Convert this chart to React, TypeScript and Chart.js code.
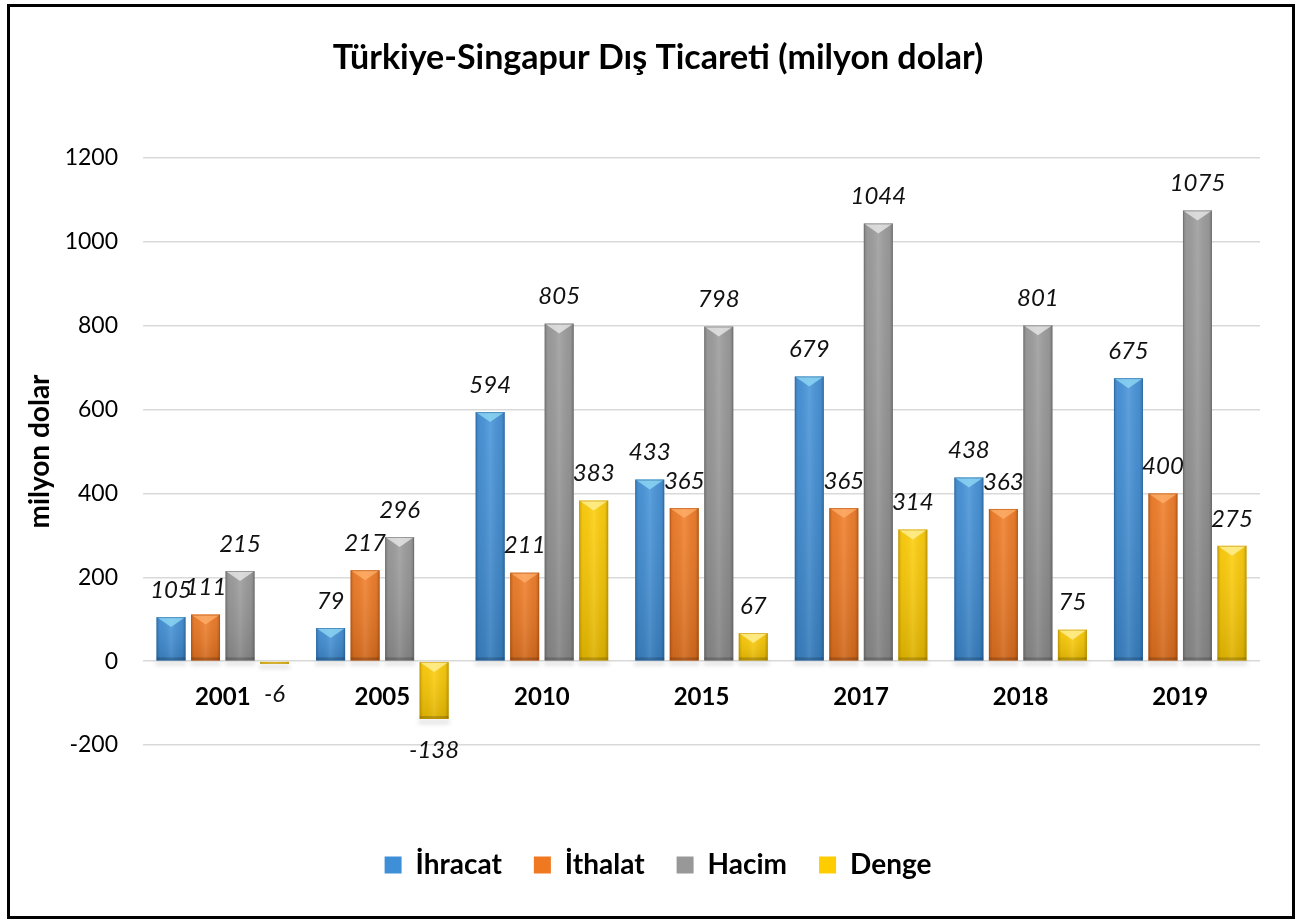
import React, { useEffect, useRef } from 'react';
import { Chart, registerables } from 'chart.js';

Chart.register(...registerables);

const categories = ['2001', '2005', '2010', '2015', '2017', '2018', '2019'];
const ihracat = [105, 79, 594, 433, 679, 438, 675];
const ithalat = [111, 217, 211, 365, 365, 363, 400];
const hacim = [215, 296, 805, 798, 1044, 801, 1075];
const denge = [-6, -138, 383, 67, 314, 75, 275];
const seriesNames = ['İhracat', 'İthalat', 'Hacim', 'Denge'];
const yTicks = [-200, 0, 200, 400, 600, 800, 1000, 1200];
const titleText = 'Türkiye-Singapur Dış Ticareti (milyon dolar)';
const yTitleText = 'milyon dolar';

const FONT = 'Lato, "Open Sans", "DejaVu Sans", sans-serif';

const palette = [
  { base: '#3f8fd8', light: '#93dcf5', dark: '#25639f' },
  { base: '#f07820', light: '#ffb26e', dark: '#b04c0a' },
  { base: '#989898', light: '#ececec', dark: '#666666' },
  { base: '#ffcc00', light: '#fff3a0', dark: '#c09000' },
];

const bevelPlugin = {
  id: 'bevel',
  beforeDatasetsDraw(chart: any) {
    const ctx = chart.ctx;
    chart.data.datasets.forEach((ds: any, di: number) => {
      const meta = chart.getDatasetMeta(di);
      meta.data.forEach((el: any) => {
        const { x, y, base, width } = el.getProps(['x', 'y', 'base', 'width'], true);
        const bot = Math.max(y, base);
        ctx.save();
        ctx.filter = 'blur(2px)';
        ctx.fillStyle = 'rgba(0,0,0,0.12)';
        ctx.fillRect(x - width / 2 - 1, bot + 1, width + 2, 4);
        ctx.restore();
      });
    });
  },
  afterDatasetsDraw(chart: any) {
    const ctx = chart.ctx;
    chart.data.datasets.forEach((ds: any, di: number) => {
      const meta = chart.getDatasetMeta(di);
      const pal = palette[di];
      meta.data.forEach((el: any) => {
        const { x, y, base, width } = el.getProps(['x', 'y', 'base', 'width'], true);
        const left = x - width / 2;
        const right = x + width / 2;
        const top = Math.min(y, base);
        const bot = Math.max(y, base);
        const h = bot - top;
        if (h < 0.5) return;
        ctx.save();
        const g = ctx.createLinearGradient(left, 0, right, 0);
        g.addColorStop(0, 'rgba(0,0,0,0.20)');
        g.addColorStop(0.12, 'rgba(0,0,0,0.04)');
        g.addColorStop(0.5, 'rgba(255,255,255,0.10)');
        g.addColorStop(0.88, 'rgba(0,0,0,0.06)');
        g.addColorStop(1, 'rgba(0,0,0,0.24)');
        ctx.fillStyle = g;
        ctx.fillRect(left, top, width, h);
        const gv = ctx.createLinearGradient(0, top, 0, bot);
        gv.addColorStop(0, 'rgba(255,255,255,0.06)');
        gv.addColorStop(1, 'rgba(0,0,0,0.12)');
        ctx.fillStyle = gv;
        ctx.fillRect(left, top, width, h);
        const bev = Math.min(width * 0.35, h * 0.5, 10);
        ctx.beginPath();
        ctx.moveTo(left, top);
        ctx.lineTo(right, top);
        ctx.lineTo(x, top + bev);
        ctx.closePath();
        ctx.globalAlpha = 0.75;
        ctx.fillStyle = pal.light;
        ctx.fill();
        ctx.globalAlpha = 1;
        const bb = Math.min(3, h * 0.2);
        ctx.fillStyle = 'rgba(0,0,0,0.18)';
        ctx.fillRect(left, bot - bb, width, bb);
        ctx.globalAlpha = 0.55;
        ctx.strokeStyle = pal.dark;
        ctx.lineWidth = 1;
        ctx.strokeRect(left + 0.5, top + 0.5, width - 1, h - 1);
        ctx.restore();
      });
    });
    // value labels
    ctx.save();
    ctx.font = `italic 24px ${FONT}`;
    ctx.fillStyle = '#111';
    ctx.textAlign = 'center';
    ctx.textBaseline = 'middle';
    chart.data.datasets.forEach((ds: any, di: number) => {
      const meta = chart.getDatasetMeta(di);
      meta.data.forEach((el: any, i: number) => {
        const v = ds.data[i];
        const { x, y } = el.getProps(['x', 'y'], true);
        const ly = v >= 0 ? y - 27 : y + 31;
        ctx.fillText(String(v), x, ly);
      });
    });
    ctx.restore();
  },
};

export default function App() {
  const ref = useRef<HTMLCanvasElement>(null);
  useEffect(() => {
    if (!ref.current) return;
    const seriesData = [ihracat, ithalat, hacim, denge];
    const chart = new Chart(ref.current, {
      type: 'bar',
      data: {
        labels: categories,
        datasets: seriesData.map((d, i) => ({
          label: seriesNames[i],
          data: d,
          backgroundColor: palette[i].base,
          borderWidth: 0,
          xAxisID: 'x',
          yAxisID: 'y',
          barPercentage: 0.84,
          categoryPercentage: 0.865,
        })),
      },
      options: {
        animation: false,
        responsive: true,
        maintainAspectRatio: false,
        layout: { padding: { left: 14, right: 0, top: 0, bottom: 27 } },
        plugins: {
          title: {
            display: true,
            text: titleText,
            color: '#000',
            font: { family: FONT, size: 34, weight: 'bold' },
            padding: { top: 30.6, bottom: 79.6 },
          },
          legend: {
            position: 'bottom',
            labels: {
              color: '#000',
              font: { family: FONT, size: 28, weight: 'bold' },
              boxWidth: 17,
              boxHeight: 17,
              padding: 32,
            },
          },
          tooltip: { enabled: false },
        },
        scales: {
          x: {
            position: { y: 0 },
            grid: { display: false, drawTicks: false },
            border: { display: false },
            ticks: { color: '#000', font: { family: FONT, size: 24, weight: 'bold' }, padding: 22 },
          },
          xPad: {
            type: 'category',
            position: 'bottom',
            grid: { display: false, drawTicks: false },
            border: { display: false },
            ticks: { display: false },
            afterFit: (s: any) => { s.height = 74; },
          },
          y: {
            min: -200,
            max: 1200,
            afterBuildTicks: (s: any) => { s.ticks = yTicks.map((v) => ({ value: v })); },
            ticks: {
              color: '#000',
              font: { family: FONT, size: 23 },
              padding: 25,
              callback: (v: any) => String(v),
            },
            grid: { color: '#d9d9d9', lineWidth: 1.5, drawTicks: false },
            border: { display: false },
            title: {
              display: true,
              text: yTitleText,
              color: '#000',
              font: { family: FONT, size: 28, weight: 'bold', lineHeight: 1 },
              padding: { top: 2, bottom: 0 },
            },
            afterFit: (s: any) => { s.width = 119; },
          },
          yPad: {
            type: 'linear',
            position: 'right',
            grid: { display: false, drawTicks: false },
            border: { display: false },
            ticks: { display: false },
            afterFit: (s: any) => { s.width = 32; },
          },
        },
      } as any,
      plugins: [bevelPlugin],
    });
    return () => chart.destroy();
  }, []);

  return (
    <div
      style={{
        position: 'absolute',
        left: 7,
        top: 4,
        width: 1288,
        height: 915,
        border: '3px solid #000',
        boxSizing: 'border-box',
        background: '#fff',
      }}
    >
      <div style={{ position: 'relative', width: 1282, height: 909 }}>
        <canvas ref={ref} />
      </div>
    </div>
  );
}
